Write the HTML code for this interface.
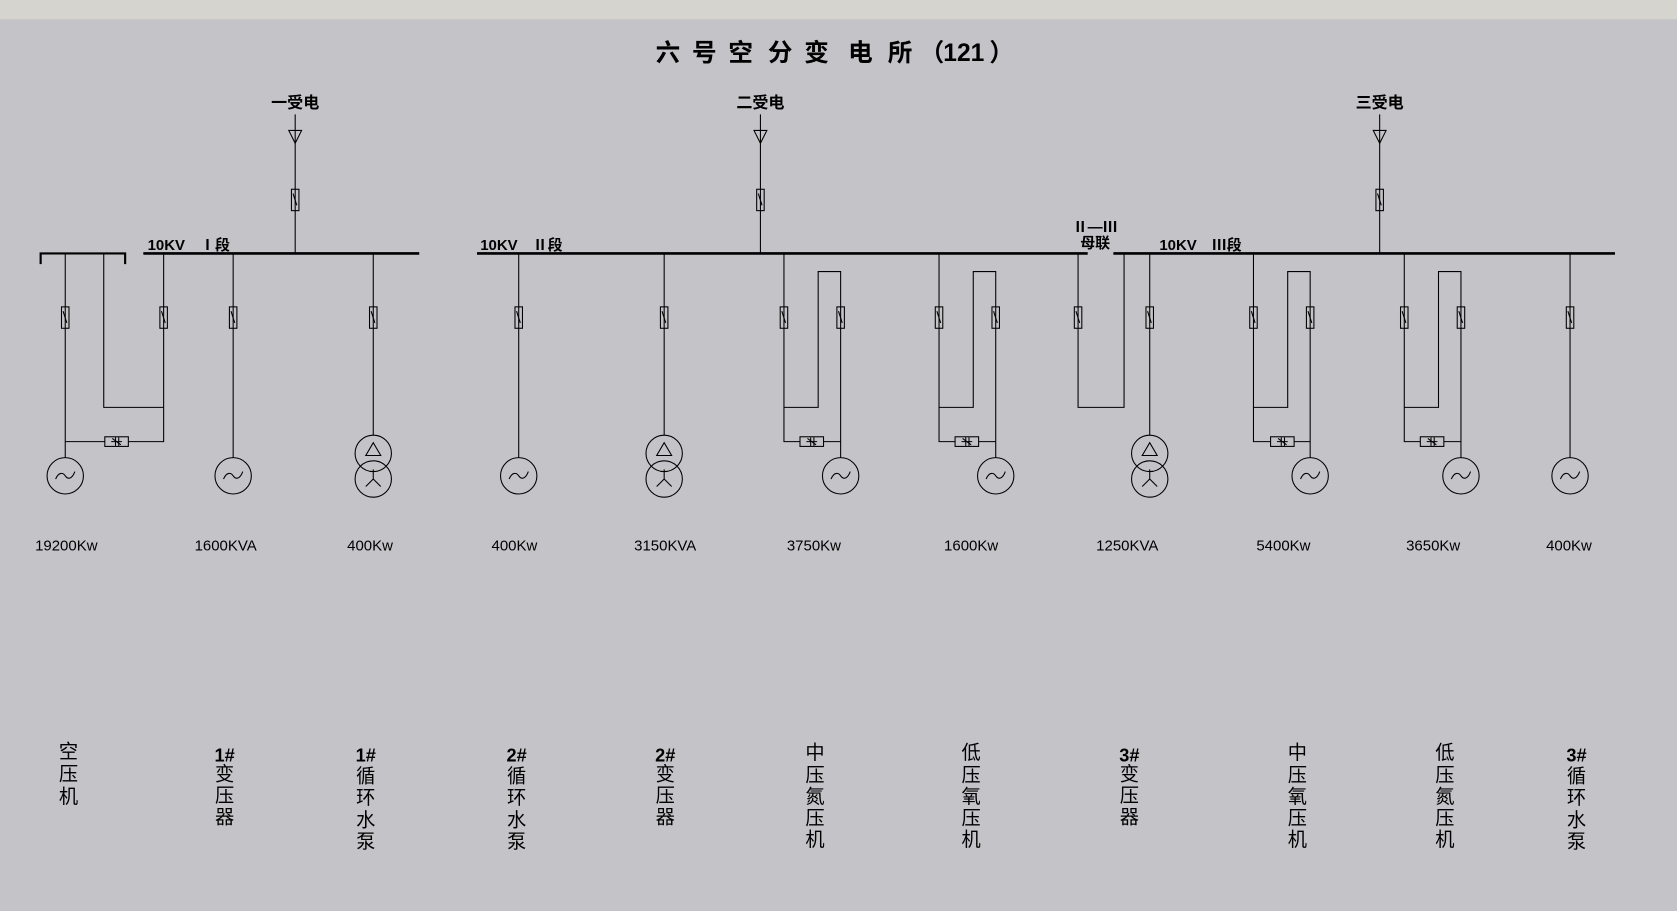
<!DOCTYPE html>
<html><head><meta charset="utf-8"><style>
html,body{margin:0;padding:0;background:#c4c3c7;}
svg{display:block}
text{font-family:"Liberation Sans","Noto Sans CJK SC",sans-serif;fill:#000}
</style></head><body>
<svg width="1677" height="911" viewBox="0 0 1568 852" preserveAspectRatio="none" xmlns="http://www.w3.org/2000/svg">
<defs>
<g id="brk"><rect x="-3.5" y="-10" width="7" height="20" fill="none" stroke="#000" stroke-width="1"/><line x1="-2" y1="-6" x2="1.5" y2="5" stroke="#000" stroke-width="1"/></g>
<g id="gen"><circle r="17" fill="none" stroke="#000" stroke-width="1"/><path d="M-9,3 C-6,-4 -2,-3 0,0 S6,4 9,-4" fill="none" stroke="#000" stroke-width="1"/></g>
<g id="tr"><circle cy="-12" r="17" fill="none" stroke="#000" stroke-width="1"/><circle cy="12" r="17" fill="none" stroke="#000" stroke-width="1"/><path d="M0,-22 L-7,-10 L7,-10 Z" fill="none" stroke="#000"/><path d="M0,12 L0,3 M0,12 L-7,19 M0,12 L7,19" fill="none" stroke="#000"/></g>
<g id="ss"><rect x="-11" y="-4.5" width="22" height="9" fill="none" stroke="#000" stroke-width="1"/><path d="M-4,-3 L4,3 M-1,-4 L-1,4 M2,-4 L2,4 M-5,0 L5,0" stroke="#000" stroke-width="1"/></g>
<g id="arr"><path d="M-6,0 L6,0 L0,12 Z" fill="none" stroke="#000" stroke-width="1"/></g>
</defs>
<rect x="0" y="0" width="1568" height="18" fill="#d6d4cf"/>
<g font-size="23" font-weight="bold">
<text x="613" y="57">六</text><text x="647" y="57">号</text><text x="681" y="57">空</text>
<text x="718" y="57">分</text><text x="752" y="57">变</text><text x="793" y="57">电</text>
<text x="830" y="57">所</text><text x="860" y="57">（</text><text x="882" y="57">121</text><text x="925" y="57">）</text>
</g>

<g stroke="#000" stroke-width="1" fill="none">
<line x1="276" y1="107" x2="276" y2="237"/><line x1="711" y1="107" x2="711" y2="237"/><line x1="1290" y1="107" x2="1290" y2="237"/>
</g>
<use href="#arr" x="276" y="122"/><use href="#arr" x="711" y="122"/><use href="#arr" x="1290" y="122"/>
<use href="#brk" x="276" y="187"/><use href="#brk" x="711" y="187"/><use href="#brk" x="1290" y="187"/>
<text x="276" y="101" font-size="15" text-anchor="middle" font-weight="bold">一受电</text>
<text x="711" y="101" font-size="15" text-anchor="middle" font-weight="bold">二受电</text>
<text x="1290" y="101" font-size="15" text-anchor="middle" font-weight="bold">三受电</text>

<g stroke="#000" stroke-width="2.5" fill="none">
<path d="M38,247 L38,237 L117,237 L117,247" stroke-width="2"/>
<line x1="134" y1="237" x2="392" y2="237"/>
<line x1="446" y1="237" x2="1017" y2="237"/>
<line x1="1041" y1="237" x2="1510" y2="237"/>
</g>
<g font-size="14" font-weight="bold">
<text x="138" y="234">10KV　Ⅰ段</text>
<text x="449" y="234">10KV　Ⅱ段</text>
<text x="1084" y="234">10KV　Ⅲ段</text>
<text x="1003" y="217">Ⅱ—Ⅲ</text>
<text x="1010" y="232">母联</text>
</g>

<g stroke="#000" stroke-width="1" fill="none">
<path d="M61,237 L61,428"/><path d="M61,413 L153,413 L153,237"/><path d="M97,237 L97,381 L153,381"/>
<path d="M218,237 L218,428"/>
<path d="M349,237 L349,407"/>
<path d="M485,237 L485,428"/>
<path d="M621,237 L621,407"/>
<path d="M733,237 L733,413 L786,413"/><path d="M733,381 L765,381 L765,254 L786,254 L786,428"/>
<path d="M878,237 L878,413 L931,413"/><path d="M878,381 L910,381 L910,254 L931,254 L931,428"/>
<path d="M1008,237 L1008,381 L1051,381 L1051,237"/>
<path d="M1075,237 L1075,407"/>
<path d="M1172,237 L1172,413 L1225,413"/><path d="M1172,381 L1204,381 L1204,254 L1225,254 L1225,428"/>
<path d="M1313,237 L1313,413 L1366,413"/><path d="M1313,381 L1345,381 L1345,254 L1366,254 L1366,428"/>
<path d="M1468,237 L1468,428"/>
</g>
<g fill="#c4c3c7">
<use href="#brk" x="61" y="297"/><use href="#brk" x="153" y="297"/><use href="#brk" x="218" y="297"/><use href="#brk" x="349" y="297"/>
<use href="#brk" x="485" y="297"/><use href="#brk" x="621" y="297"/><use href="#brk" x="733" y="297"/><use href="#brk" x="786" y="297"/>
<use href="#brk" x="878" y="297"/><use href="#brk" x="931" y="297"/><use href="#brk" x="1008" y="297"/><use href="#brk" x="1075" y="297"/>
<use href="#brk" x="1172" y="297"/><use href="#brk" x="1225" y="297"/><use href="#brk" x="1313" y="297"/><use href="#brk" x="1366" y="297"/><use href="#brk" x="1468" y="297"/>
</g>
<rect x="98" y="408.5" width="22" height="9" fill="#c4c3c7"/><use href="#ss" x="109" y="413"/>
<rect x="748" y="408.5" width="22" height="9" fill="#c4c3c7"/><use href="#ss" x="759" y="413"/>
<rect x="893" y="408.5" width="22" height="9" fill="#c4c3c7"/><use href="#ss" x="904" y="413"/>
<rect x="1188" y="408.5" width="22" height="9" fill="#c4c3c7"/><use href="#ss" x="1199" y="413"/>
<rect x="1328" y="408.5" width="22" height="9" fill="#c4c3c7"/><use href="#ss" x="1339" y="413"/>

<use href="#gen" x="61" y="445"/><use href="#gen" x="218" y="445"/><use href="#tr" x="349" y="436"/>
<use href="#gen" x="485" y="445"/><use href="#tr" x="621" y="436"/><use href="#gen" x="786" y="445"/>
<use href="#gen" x="931" y="445"/><use href="#tr" x="1075" y="436"/><use href="#gen" x="1225" y="445"/>
<use href="#gen" x="1366" y="445"/><use href="#gen" x="1468" y="445"/>

<g font-size="14" text-anchor="middle">
<text x="62" y="515">19200Kw</text><text x="211" y="515">1600KVA</text><text x="346" y="515">400Kw</text>
<text x="481" y="515">400Kw</text><text x="622" y="515">3150KVA</text><text x="761" y="515">3750Kw</text>
<text x="908" y="515">1600Kw</text><text x="1054" y="515">1250KVA</text><text x="1200" y="515">5400Kw</text>
<text x="1340" y="515">3650Kw</text><text x="1467" y="515">400Kw</text>
</g>

<g font-size="18" text-anchor="middle">
<text x="64" y="709">空</text><text x="64" y="730">压</text><text x="64" y="751">机</text>
<text x="210" y="712" font-weight="bold" font-size="17">1#</text><text x="210" y="730">变</text><text x="210" y="750">压</text><text x="210" y="770">器</text>
<text x="342" y="712" font-weight="bold" font-size="17">1#</text><text x="342" y="732">循</text><text x="342" y="752">环</text><text x="342" y="773">水</text><text x="342" y="793">泵</text>
<text x="483" y="712" font-weight="bold" font-size="17">2#</text><text x="483" y="732">循</text><text x="483" y="752">环</text><text x="483" y="773">水</text><text x="483" y="793">泵</text>
<text x="622" y="712" font-weight="bold" font-size="17">2#</text><text x="622" y="730">变</text><text x="622" y="750">压</text><text x="622" y="770">器</text>
<text x="762" y="710">中</text><text x="762" y="731">压</text><text x="762" y="751">氮</text><text x="762" y="771">压</text><text x="762" y="791">机</text>
<text x="908" y="710">低</text><text x="908" y="731">压</text><text x="908" y="751">氧</text><text x="908" y="771">压</text><text x="908" y="791">机</text>
<text x="1056" y="712" font-weight="bold" font-size="17">3#</text><text x="1056" y="730">变</text><text x="1056" y="750">压</text><text x="1056" y="770">器</text>
<text x="1213" y="710">中</text><text x="1213" y="731">压</text><text x="1213" y="751">氧</text><text x="1213" y="771">压</text><text x="1213" y="791">机</text>
<text x="1351" y="710">低</text><text x="1351" y="731">压</text><text x="1351" y="751">氮</text><text x="1351" y="771">压</text><text x="1351" y="791">机</text>
<text x="1474" y="712" font-weight="bold" font-size="17">3#</text><text x="1474" y="732">循</text><text x="1474" y="752">环</text><text x="1474" y="773">水</text><text x="1474" y="793">泵</text>
</g>
</svg>
</body></html>
